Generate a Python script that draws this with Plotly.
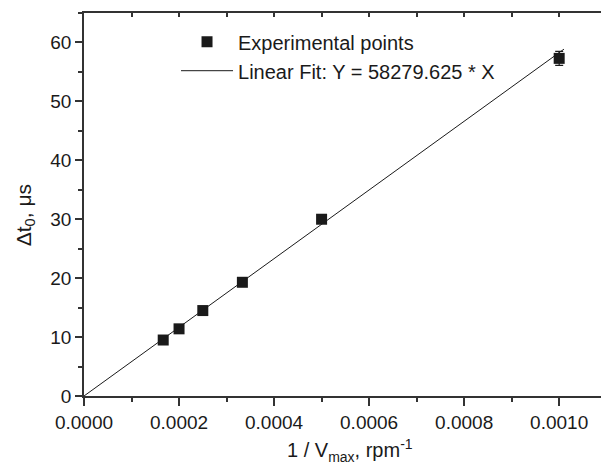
import plotly.graph_objects as go

# Data
inv_vmax = [0.0001667, 0.0002, 0.00025, 0.0003333, 0.0005, 0.0010]
delta_t0 = [9.5, 11.4, 14.5, 19.3, 30.0, 57.3]
delta_err = [0.0, 0.0, 0.0, 0.0, 0.0, 1.2]
fit_slope = 58279.625
fit_x = [0.0, 0.00101]
fit_y = [fit_slope * v for v in fit_x]

x_tick_vals = [0.0, 0.0002, 0.0004, 0.0006, 0.0008, 0.0010]
x_tick_text = ["0.0000", "0.0002", "0.0004", "0.0006", "0.0008", "0.0010"]
y_tick_vals = [0, 10, 20, 30, 40, 50, 60]

x_title = "1 / V<sub>max</sub>, rpm<sup>-1</sup>"
y_title = "Δt<sub>0</sub>, μs"

FONT = "Liberation Sans, Arial, Helvetica, sans-serif"
AX = "#333333"
INK = "#1a1a1a"

fig = go.Figure()
fig.add_trace(go.Scatter(
    x=inv_vmax, y=delta_t0, mode="markers", name="Experimental points",
    marker=dict(symbol="square", size=11, color=INK),
    error_y=dict(type="data", array=delta_err, visible=True, color=INK,
                 thickness=1.2, width=4),
))
fig.add_trace(go.Scatter(
    x=fit_x, y=fit_y, mode="lines", name="Linear Fit: Y = 58279.625 * X",
    line=dict(color=INK, width=1),
))
# invisible trace to host the top axis
fig.add_trace(go.Scatter(x=[0], y=[0], xaxis="x2", mode="markers",
                         marker=dict(opacity=0), showlegend=False, hoverinfo="skip"))

XR = [0.0, 0.001088]
fig.update_layout(
    width=601, height=472,
    margin=dict(l=84, r=0, t=13, b=76, autoexpand=False),
    paper_bgcolor="white", plot_bgcolor="white",
    font=dict(family=FONT, size=19, color=INK),
    showlegend=True,
    legend=dict(x=0.178, y=0.976, xanchor="left", yanchor="top",
                bgcolor="rgba(0,0,0,0)", font=dict(size=20, family=FONT, color=INK),
                itemwidth=52, tracegroupgap=0),
    xaxis=dict(
        range=XR, tickvals=x_tick_vals, ticktext=x_tick_text, automargin=False,
        showline=True, linecolor=AX, linewidth=1.5,
        ticks="outside", ticklen=8, tickwidth=1.5, tickcolor=AX,
        minor=dict(dtick=0.0001, ticks="outside", ticklen=4, tickwidth=1.5, tickcolor=AX, showgrid=False),
        showgrid=False, zeroline=False,
        tickfont=dict(size=19, family=FONT, color=INK),
    ),
    xaxis2=dict(
        range=XR, overlaying="x", side="top", showline=True, linecolor=AX, linewidth=1.5,
        dtick=0.0001, tick0=0, ticks="inside", ticklen=4, tickwidth=1.5, tickcolor=AX,
        showticklabels=False, showgrid=False, zeroline=False, automargin=False,
    ),
    yaxis=dict(
        range=[0, 65], tickvals=y_tick_vals, automargin=False,
        showline=True, linecolor=AX, linewidth=1.5,
        ticks="outside", ticklen=7, tickwidth=1.5, tickcolor=AX,
        minor=dict(dtick=5, ticks="outside", ticklen=4, tickwidth=1.5, tickcolor=AX, showgrid=False),
        showgrid=False, zeroline=False,
        tickfont=dict(size=19, family=FONT, color=INK),
    ),
    annotations=[
        dict(text=x_title, xref="paper", yref="paper", x=0.5145, y=-0.143,
             xanchor="center", yanchor="middle", showarrow=False,
             font=dict(size=20, family=FONT, color=INK)),
        dict(text=y_title, xref="paper", yref="paper", x=-0.114, y=0.472,
             xanchor="center", yanchor="middle", showarrow=False, textangle=-90,
             font=dict(size=21, family=FONT, color=INK)),
    ],
)

fig.write_html("out.html", config={"displayModeBar": False},
               post_script="document.body.style.margin='0';document.body.style.overflow='hidden';")
